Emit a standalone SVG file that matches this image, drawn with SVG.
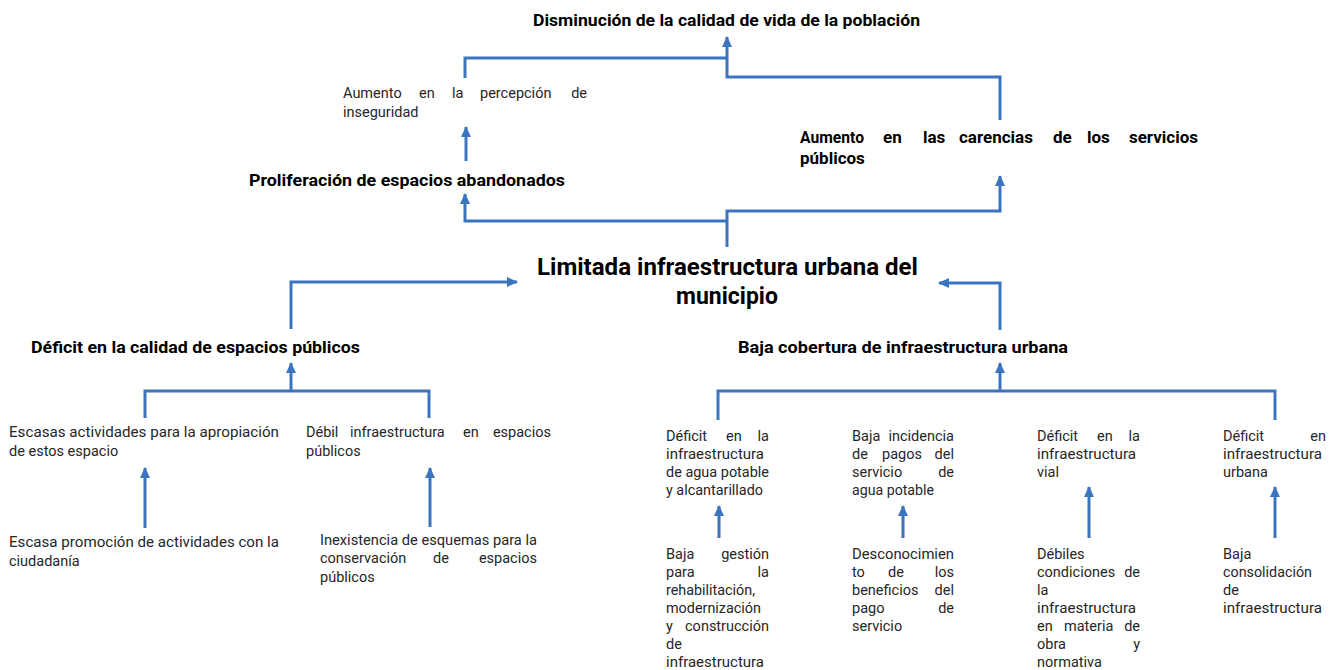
<svg xmlns="http://www.w3.org/2000/svg" width="1339" height="670" viewBox="0 0 1339 670">
<style>
.t{font-family:Roboto,"Liberation Sans",sans-serif;font-size:14.5px;fill:#262626}
.b{font-family:Roboto,"Liberation Sans",sans-serif;font-weight:700;font-size:17px;fill:#000}
.h{font-family:Roboto,"Liberation Sans",sans-serif;font-weight:700;font-size:23px;fill:#000}
.e{text-anchor:end}
.c{fill:none;stroke:#3b75bd;stroke-width:3}
.a{marker-end:url(#arr)}
</style>
<defs>
<marker id="arr" viewBox="0 0 11 10" markerWidth="11" markerHeight="10" refX="10" refY="5" orient="auto" markerUnits="userSpaceOnUse">
<path d="M0,0 L11,5 L0,10 z" fill="#3b75bd"/>
</marker>
</defs>
<rect width="1339" height="670" fill="#fff"/>

<g id="connectors">
<path class="c" d="M465,78 V58 H727"/>
<path class="c a" d="M1000,120 V77 H727 V37"/>
<path class="c a" d="M466,161 V127"/>
<path class="c a" d="M727,247 V211 H1000 V176"/>
<path class="c a" d="M727,221 H465 V194"/>
<path class="c a" d="M291,329 V282 H517"/>
<path class="c a" d="M1000,330 V283 H939"/>
<path class="c" d="M145,418 V391 H429 V418"/>
<path class="c a" d="M291,391 V363"/>
<path class="c" d="M718,420 V391 H1275 V420"/>
<path class="c a" d="M1000,391 V363"/>
<path class="c a" d="M145,528 V468"/>
<path class="c a" d="M430,527 V468"/>
<path class="c a" d="M719,538 V506"/>
<path class="c a" d="M903,538 V506"/>
<path class="c a" d="M1089,538 V487"/>
<path class="c a" d="M1275,538 V487"/>
</g>

<g id="n-disminucion">
<text class="b" x="533" y="26" textLength="387" lengthAdjust="spacingAndGlyphs">Disminución de la calidad de vida de la población</text>
</g>
<g id="n-percepcion">
<text class="t" y="98"><tspan x="343">Aumento</tspan><tspan x="419">en</tspan><tspan x="452">la</tspan><tspan x="480">percepción</tspan><tspan x="587" class="e">de</tspan></text>
<text class="t" x="343" y="117">inseguridad</text>
</g>
<g id="n-carencias">
<text class="b" y="143"><tspan x="800" textLength="64" lengthAdjust="spacingAndGlyphs">Aumento</tspan><tspan x="883">en</tspan><tspan x="923">las</tspan><tspan x="959">carencias</tspan><tspan x="1053">de</tspan><tspan x="1087">los</tspan><tspan x="1198" class="e">servicios</tspan></text>
<text class="b" x="800" y="164">públicos</text>
</g>
<g id="n-proliferacion">
<text class="b" x="249" y="186" textLength="316" lengthAdjust="spacingAndGlyphs">Proliferación de espacios abandonados</text>
</g>
<g id="n-limitada">
<text class="h" x="537" y="275" textLength="381" lengthAdjust="spacingAndGlyphs">Limitada infraestructura urbana del</text>
<text class="h" x="727" y="304" text-anchor="middle">municipio</text>
</g>
<g id="n-deficit-espacios">
<text class="b" x="31" y="353" textLength="329" lengthAdjust="spacingAndGlyphs">Déficit en la calidad de espacios públicos</text>
</g>
<g id="n-baja-cobertura">
<text class="b" x="738" y="353" textLength="330" lengthAdjust="spacingAndGlyphs">Baja cobertura de infraestructura urbana</text>
</g>

<g id="n-escasas">
<text class="t" x="9" y="437" textLength="270" lengthAdjust="spacingAndGlyphs">Escasas actividades para la apropiación</text>
<text class="t" x="9" y="456">de estos espacio</text>
</g>
<g id="n-debil">
<text class="t" y="437"><tspan x="306">Débil</tspan><tspan x="350">infraestructura</tspan><tspan x="463">en</tspan><tspan x="551" class="e">espacios</tspan></text>
<text class="t" x="306" y="456">públicos</text>
</g>
<g id="n-escasa-promocion">
<text class="t" x="9" y="547" textLength="270" lengthAdjust="spacingAndGlyphs">Escasa promoción de actividades con la</text>
<text class="t" x="9" y="566">ciudadanía</text>
</g>
<g id="n-inexistencia">
<text class="t" x="320" y="545" textLength="217" lengthAdjust="spacingAndGlyphs">Inexistencia de esquemas para la</text>
<text class="t" y="563"><tspan x="320">conservación</tspan><tspan x="433">de</tspan><tspan x="537" class="e">espacios</tspan></text>
<text class="t" x="320" y="582">públicos</text>
</g>

<g id="n-agua">
<text class="t" y="441"><tspan x="666">Déficit</tspan><tspan x="726">en</tspan><tspan x="769" class="e">la</tspan></text>
<text class="t" x="666" y="459" textLength="98" lengthAdjust="spacingAndGlyphs">infraestructura</text>
<text class="t" x="666" y="477" textLength="103" lengthAdjust="spacingAndGlyphs">de agua potable</text>
<text class="t" x="666" y="495" textLength="97" lengthAdjust="spacingAndGlyphs">y alcantarillado</text>
</g>
<g id="n-pagos">
<text class="t" y="441"><tspan x="852">Baja</tspan><tspan x="954" class="e">incidencia</tspan></text>
<text class="t" y="459"><tspan x="852">de</tspan><tspan x="882">pagos</tspan><tspan x="954" class="e">del</tspan></text>
<text class="t" y="477"><tspan x="852">servicio</tspan><tspan x="954" class="e">de</tspan></text>
<text class="t" x="852" y="495" textLength="82" lengthAdjust="spacingAndGlyphs">agua potable</text>
</g>
<g id="n-vial">
<text class="t" y="441"><tspan x="1037">Déficit</tspan><tspan x="1097">en</tspan><tspan x="1140" class="e">la</tspan></text>
<text class="t" x="1037" y="459" textLength="99" lengthAdjust="spacingAndGlyphs">infraestructura</text>
<text class="t" x="1037" y="477">vial</text>
</g>
<g id="n-urbana">
<text class="t" y="441"><tspan x="1223">Déficit</tspan><tspan x="1326" class="e">en</tspan></text>
<text class="t" x="1223" y="459" textLength="99" lengthAdjust="spacingAndGlyphs">infraestructura</text>
<text class="t" x="1223" y="477">urbana</text>
</g>

<g id="n-gestion">
<text class="t" y="559"><tspan x="666">Baja</tspan><tspan x="769" class="e">gestión</tspan></text>
<text class="t" y="577"><tspan x="666">para</tspan><tspan x="769" class="e">la</tspan></text>
<text class="t" x="666" y="595" textLength="89" lengthAdjust="spacingAndGlyphs">rehabilitación,</text>
<text class="t" x="666" y="613" textLength="95" lengthAdjust="spacingAndGlyphs">modernización</text>
<text class="t" y="631"><tspan x="666">y</tspan><tspan x="769" class="e">construcción</tspan></text>
<text class="t" x="666" y="649">de</text>
<text class="t" x="666" y="667" textLength="98" lengthAdjust="spacingAndGlyphs">infraestructura</text>
</g>
<g id="n-desconocimiento">
<text class="t" x="852" y="559" textLength="102" lengthAdjust="spacingAndGlyphs">Desconocimien</text>
<text class="t" y="577"><tspan x="852">to</tspan><tspan x="888">de</tspan><tspan x="954" class="e">los</tspan></text>
<text class="t" y="595"><tspan x="852">beneficios</tspan><tspan x="954" class="e">del</tspan></text>
<text class="t" y="613"><tspan x="852">pago</tspan><tspan x="954" class="e">de</tspan></text>
<text class="t" x="852" y="631">servicio</text>
</g>
<g id="n-debiles">
<text class="t" x="1037" y="559">Débiles</text>
<text class="t" y="577"><tspan x="1037">condiciones</tspan><tspan x="1140" class="e">de</tspan></text>
<text class="t" x="1037" y="595">la</text>
<text class="t" x="1037" y="613" textLength="99" lengthAdjust="spacingAndGlyphs">infraestructura</text>
<text class="t" y="631"><tspan x="1037">en</tspan><tspan x="1064">materia</tspan><tspan x="1140" class="e">de</tspan></text>
<text class="t" y="649"><tspan x="1037">obra</tspan><tspan x="1140" class="e">y</tspan></text>
<text class="t" x="1037" y="667">normativa</text>
</g>
<g id="n-consolidacion">
<text class="t" x="1223" y="559">Baja</text>
<text class="t" x="1223" y="577" textLength="89" lengthAdjust="spacingAndGlyphs">consolidación</text>
<text class="t" x="1223" y="595">de</text>
<text class="t" x="1223" y="613" textLength="99" lengthAdjust="spacingAndGlyphs">infraestructura</text>
</g>
</svg>
